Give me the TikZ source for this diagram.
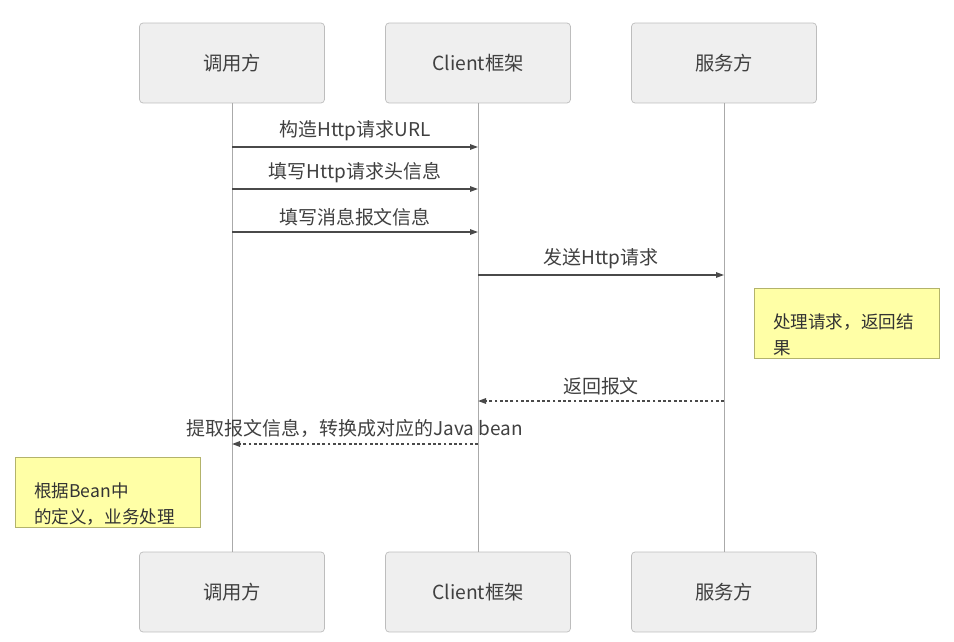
\documentclass[tikz,border=0pt]{standalone}
\usepackage{fontspec}
\setmainfont{Noto Sans CJK SC}
\usetikzlibrary{arrows.meta, positioning}

\definecolor{boxfill}{HTML}{EFEFEF}
\definecolor{boxline}{HTML}{BDBDBD}
\definecolor{notefill}{HTML}{FFFFA6}
\definecolor{noteline}{HTML}{B3B36B}
\definecolor{msgline}{HTML}{4A4A4A}
\definecolor{lifeline}{HTML}{AAAAAA}

\begin{document}
\begin{tikzpicture}[x=0.02cm, y=-0.02cm,
    actor/.style={draw=boxline, fill=boxfill, rounded corners=2pt,
                  minimum width=3.7cm, minimum height=1.6cm,
                  font=\fontsize{11}{13}\selectfont, text=black!75},
    note/.style={draw=noteline, fill=notefill, minimum width=3.7cm,
                 minimum height=1.4cm, align=left, inner sep=0pt,
                 text width=2.95cm,
                 font=\fontsize{10}{14.7}\selectfont, text=black!80},
    msg/.style={-{Triangle[length=1.6mm, width=1.1mm]}, draw=msgline, thick},
    reply/.style={msg, dash pattern=on 1.6pt off 1.4pt},
    life/.style={draw=lifeline, thin},
    lbl/.style={font=\fontsize{10.8}{13}\selectfont, text=black!75, anchor=south, inner sep=1pt}
]
\useasboundingbox (0,0) rectangle (954,642);

% Participants
\node[actor] (caller) at (232, 63) {调用方};
\node[actor] (client) at (478, 63) {Client框架};
\node[actor] (server) at (724, 63) {服务方};
\node[actor] (callerB) at (232, 592) {调用方};
\node[actor] (clientB) at (478, 592) {Client框架};
\node[actor] (serverB) at (724, 592) {服务方};

% Lifelines
\draw[life] (caller) -- (callerB);
\draw[life] (client) -- (clientB);
\draw[life] (server) -- (serverB);

% Message points on the lifelines
\coordinate (m1a) at (232, 147); \coordinate (m1b) at (478, 147);
\coordinate (m2a) at (232, 189); \coordinate (m2b) at (478, 189);
\coordinate (m3a) at (232, 232); \coordinate (m3b) at (478, 232);
\coordinate (m4a) at (478, 275); \coordinate (m4b) at (724, 275);
\coordinate (r1a) at (724, 401); \coordinate (r1b) at (478, 401);
\coordinate (r2a) at (478, 444); \coordinate (r2b) at (232, 444);

% Requests
\draw[msg] (m1a) -- node[lbl, above=2pt] {构造Http请求URL} (m1b);
\draw[msg] (m2a) -- node[lbl, above=2pt] {填写Http请求头信息} (m2b);
\draw[msg] (m3a) -- node[lbl, above=2pt] {填写消息报文信息} (m3b);
\draw[msg] (m4a) -- node[lbl, above=2pt] {发送Http请求} (m4b);

% Replies
\draw[reply] (r1a) -- node[lbl, above=2pt] {返回报文} (r1b);
\draw[reply] (r2a) -- node[lbl, above=2pt] {提取报文信息，转换成对应的Java bean} (r2b);

% Notes
\node[note] (work) at (847, 323)
  {\rule{0pt}{22pt}处理请求，返回结\\果};
\node[note] (beans) at (108, 492)
  {\rule{0pt}{22pt}根据Bean中\\的定义，业务处理};
\end{tikzpicture}
\end{document}
